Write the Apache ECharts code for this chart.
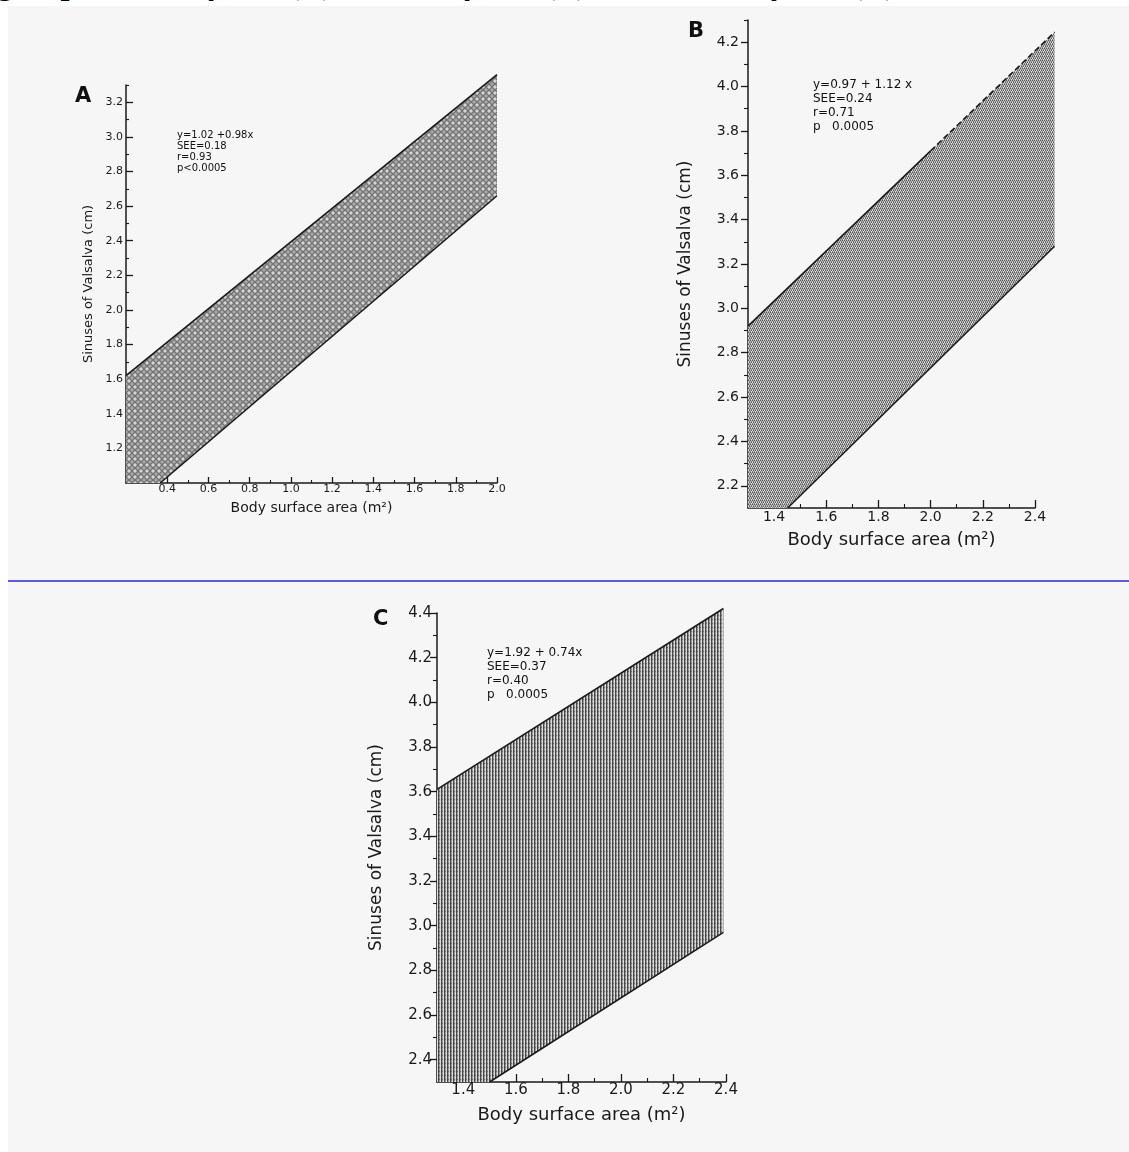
<!DOCTYPE html>
<html>
<head>
<meta charset="utf-8">
<script src="https://cdn.jsdelivr.net/npm/echarts@6/dist/echarts.min.js"></script>
<style>
    html, body {margin: 0; padding: 0; background: #ffffff;}
    #page {position: relative; width: 1129px; height: 1152px; overflow: hidden; background: #ffffff;}
    #panel_bg {position: absolute; left: 8px; top: 6px; right: 0; bottom: 0; background: #f6f6f6;}
    #split_line {position: absolute; left: 8px; right: 0; top: 580px; height: 2px; background: #5a5af2;}
    #caption {position: absolute; left: 0; top: 0; width: 1129px; height: 6px; overflow: hidden;}
    #caption span {position: absolute; left: -3px; top: -35px; white-space: nowrap; line-height: 32px;
        font: bold 32px "Liberation Serif", serif; color: #000;}
    #main {position: absolute; left: 0; top: 0; width: 1129px; height: 1152px;}
</style>
</head>
<body>
<div id="page">
    <div id="panel_bg"></div>
    <div id="split_line"></div>
    <div id="caption"><span>groups: 0 to 20 years (A), 21 to 40 years (B), and over 40 years (C)</span></div>
    <div id="main"></div>
</div>
<script>
    // edges of the shaded bands (x = body surface area, y = sinuses of Valsalva)
    const aUpper = [[0.2, 1.62], [2.0, 3.36]];
    const aLower = [[0.366, 1.0], [2.0, 2.66]];
    const bUpper = [[1.3, 2.92], [2.0, 3.71]];
    const bUpperDash = [[2.0, 3.71], [2.475, 4.245]];
    const bLower = [[1.452, 2.1], [2.475, 3.28]];
    const cUpper = [[1.3, 3.61], [2.39, 4.42]];
    const cLower = [[1.5, 2.3], [2.39, 2.97]];

    // axis ranges and ticks
    const aX = [0.2, 2.0], aY = [1.0, 3.3];
    const bX = [1.3, 2.4], bY = [2.1, 4.3];
    const cX = [1.3, 2.4], cY = [2.3, 4.4];
    const aXTicks = [0.4, 0.6, 0.8, 1.0, 1.2, 1.4, 1.6, 1.8, 2.0];
    const aXMinor = [0.3, 0.5, 0.7, 0.9, 1.1, 1.3, 1.5, 1.7, 1.9];
    const aYTicks = [1.2, 1.4, 1.6, 1.8, 2.0, 2.2, 2.4, 2.6, 2.8, 3.0, 3.2];
    const aYMinor = [1.1, 1.3, 1.5, 1.7, 1.9, 2.1, 2.3, 2.5, 2.7, 2.9, 3.1, 3.3];
    const bcXTicks = [1.4, 1.6, 1.8, 2.0, 2.2, 2.4];
    const bcXMinor = [1.5, 1.7, 1.9, 2.1, 2.3];
    const bYTicks = [2.2, 2.4, 2.6, 2.8, 3.0, 3.2, 3.4, 3.6, 3.8, 4.0, 4.2];
    const bYMinor = [2.3, 2.5, 2.7, 2.9, 3.1, 3.3, 3.5, 3.7, 3.9, 4.1, 4.3];
    const cYTicks = [2.4, 2.6, 2.8, 3.0, 3.2, 3.4, 3.6, 3.8, 4.0, 4.2, 4.4];
    const cYMinor = [2.5, 2.7, 2.9, 3.1, 3.3, 3.5, 3.7, 3.9, 4.1, 4.3];

    const aStats = ['y=1.02 +0.98x', 'SEE=0.18', 'r=0.93', 'p<0.0005'];
    const bStats = ['y=0.97 + 1.12 x', 'SEE=0.24', 'r=0.71', 'p   0.0005'];
    const cStats = ['y=1.92 + 0.74x', 'SEE=0.37', 'r=0.40', 'p   0.0005'];

    const FONT = 'DejaVu Sans';
    const INK = '#1a1a1a';
    const X_NAME = 'Body surface area (m²)';
    const Y_NAME = 'Sinuses of Valsalva (cm)';

    function make_pattern(kind) {
        let c = document.createElement('canvas');
        let ctx = c.getContext('2d');
        if (kind === 'cells') {
            c.width = 6; c.height = 6;
            ctx.fillStyle = '#a8a8a8';
            ctx.fillRect(0, 0, 6, 6);
            ctx.fillStyle = '#d6d6d6';
            ctx.beginPath();
            ctx.arc(3, 3, 1.7, 0, Math.PI * 2);
            ctx.fill();
            ctx.strokeStyle = '#5a5a5a';
            ctx.lineWidth = 0.9;
            ctx.beginPath();
            ctx.arc(3, 3, 2.4, 0, Math.PI * 2);
            ctx.stroke();
        } else if (kind === 'hatch') {
            c.width = 4; c.height = 4;
            ctx.fillStyle = '#b9b9b9';
            ctx.fillRect(0, 0, 4, 4);
            ctx.fillStyle = '#5a5a5a';
            [[0, 0], [2, 0], [1, 2], [3, 2]].forEach(p => ctx.fillRect(p[0], p[1], 1, 1));
            ctx.fillStyle = '#868686';
            [[1, 1], [3, 1], [2, 3], [0, 3]].forEach(p => ctx.fillRect(p[0], p[1], 1, 1));
            ctx.fillStyle = '#e4e4e4';
            [[3, 3], [0, 2]].forEach(p => ctx.fillRect(p[0], p[1], 1, 1));
        } else {
            c.width = 3; c.height = 4;
            ctx.fillStyle = '#9c9c9c';
            ctx.fillRect(0, 0, 3, 4);
            ctx.fillStyle = '#474747';
            ctx.fillRect(0, 0, 1, 4);
            ctx.fillStyle = '#d2d2d2';
            ctx.fillRect(2, 0, 1, 4);
            ctx.fillStyle = '#6a6a6a';
            ctx.fillRect(1, 3, 1, 1);
            ctx.fillStyle = '#ebebeb';
            ctx.fillRect(2, 1, 1, 1);
        }
        return {image: c, repeat: 'repeat'};
    }

    function axis_pair(dim, gridIndex, range, ticks, minor, o) {
        const position = dim === 'x' ? 'bottom' : 'left';
        const main = {
            type: 'value', gridIndex: gridIndex, min: range[0], max: range[1], position: position,
            axisLine: {show: true, onZero: false, lineStyle: {color: INK, width: 1.5}},
            axisTick: {show: true, inside: o.inside, length: o.tickLen, customValues: ticks,
                lineStyle: {color: INK, width: 1.3}},
            axisLabel: {show: true, customValues: ticks, margin: o.margin, fontSize: o.fontSize,
                color: INK, fontFamily: FONT, formatter: v => v.toFixed(1)},
            splitLine: {show: false},
            name: o.name, nameLocation: 'middle', nameGap: o.nameGap,
            nameTextStyle: {fontSize: o.nameSize, color: INK, fontFamily: FONT},
        };
        const small = {
            type: 'value', gridIndex: gridIndex, min: range[0], max: range[1], position: position,
            axisLine: {show: false, onZero: false},
            axisTick: {show: true, inside: o.inside, length: o.minorLen, customValues: minor,
                lineStyle: {color: INK, width: 1.1}},
            axisLabel: {show: false},
            splitLine: {show: false},
        };
        return [main, small];
    }

    // one custom series per panel: the shaded polygon and its edge lines
    function band(xi, points, pattern, edges) {
        return {
            type: 'custom', xAxisIndex: xi, yAxisIndex: xi, data: points, silent: true, z: 1,
            renderItem: (params, api) => {
                if (params.dataIndex !== 0) return;
                const children = [{
                    type: 'polygon',
                    shape: {points: points.map(p => api.coord(p))},
                    style: {fill: pattern, stroke: null},
                }];
                edges.forEach(e => {
                    children.push({
                        type: 'polyline', z2: 5,
                        shape: {points: e.data.map(p => api.coord(p))},
                        style: {stroke: INK, lineWidth: 1.6, fill: null, lineDash: e.dashed ? [6, 3] : null},
                    });
                });
                return {type: 'group', children: children};
            },
        };
    }

    const aBand = [[aX[0], aY[0]], aUpper[0], aUpper[1], aLower[1], aLower[0]];
    const bBand = [[bX[0], bY[0]], bUpper[0], bUpperDash[1], bLower[1], bLower[0]];
    const cBand = [[cX[0], cY[0]], cUpper[0], cUpper[1], cLower[1], cLower[0]];

    const xAxes = [].concat(
        axis_pair('x', 0, aX, aXTicks, aXMinor, {inside: true, tickLen: 6, minorLen: 3, margin: 1, fontSize: 11,
            name: X_NAME, nameGap: 18, nameSize: 14}),
        axis_pair('x', 1, bX, bcXTicks, bcXMinor, {inside: true, tickLen: 8, minorLen: 4, margin: 2, fontSize: 14,
            name: X_NAME, nameGap: 23, nameSize: 18}),
        axis_pair('x', 2, cX, bcXTicks, bcXMinor, {inside: true, tickLen: 8, minorLen: 4, margin: 1, fontSize: 15,
            name: X_NAME, nameGap: 24, nameSize: 18})
    );
    const yAxes = [].concat(
        axis_pair('y', 0, aY, aYTicks, aYMinor, {inside: true, tickLen: 7, minorLen: 3, margin: 3, fontSize: 11,
            name: Y_NAME, nameGap: 31, nameSize: 13}),
        axis_pair('y', 1, bY, bYTicks, bYMinor, {inside: false, tickLen: 7, minorLen: 4, margin: 9, fontSize: 14,
            name: Y_NAME, nameGap: 54, nameSize: 17}),
        axis_pair('y', 2, cY, cYTicks, cYMinor, {inside: false, tickLen: 7, minorLen: 4, margin: 5, fontSize: 15,
            name: Y_NAME, nameGap: 52, nameSize: 17})
    );
    // main axes sit at 0, 2, 4 (the odd ones only carry the small ticks)
    const mainIdx = [0, 2, 4];

    function txt(left, top, text, font, lineHeight) {
        return {type: 'text', left: left, top: top, silent: true,
            style: {text: text, font: font, lineHeight: lineHeight, fill: '#111111'}};
    }

    const chart = echarts.init(document.getElementById('main'), null, {renderer: 'canvas'});
    chart.setOption({
        animation: false,
        backgroundColor: 'transparent',
        textStyle: {fontFamily: FONT},
        grid: [
            {left: 126, top: 85, width: 371, height: 398, outerBoundsMode: 'none'},
            {left: 748, top: 20, width: 287, height: 488, outerBoundsMode: 'none'},
            {left: 437, top: 613, width: 289, height: 469, outerBoundsMode: 'none'},
        ],
        xAxis: xAxes,
        yAxis: yAxes,
        series: [
            band(mainIdx[0], aBand, make_pattern('cells'), [{data: aUpper}, {data: aLower}]),
            band(mainIdx[1], bBand, make_pattern('hatch'),
                [{data: bUpper}, {data: bUpperDash, dashed: true}, {data: bLower}]),
            band(mainIdx[2], cBand, make_pattern('vertical'), [{data: cUpper}, {data: cLower}]),
        ],
        graphic: [
            txt(75, 86, 'A', 'bold 21px "DejaVu Sans"', 22),
            txt(688, 21, 'B', 'bold 21px "DejaVu Sans"', 22),
            txt(373, 609, 'C', 'bold 21px "DejaVu Sans"', 22),
            txt(177, 130, aStats.join('\n'), '10px "DejaVu Sans"', 11),
            txt(813, 78, bStats.join('\n'), '12px "DejaVu Sans"', 14),
            txt(487, 646, cStats.join('\n'), '12px "DejaVu Sans"', 14),
        ],
    });
</script>
</body>
</html>
